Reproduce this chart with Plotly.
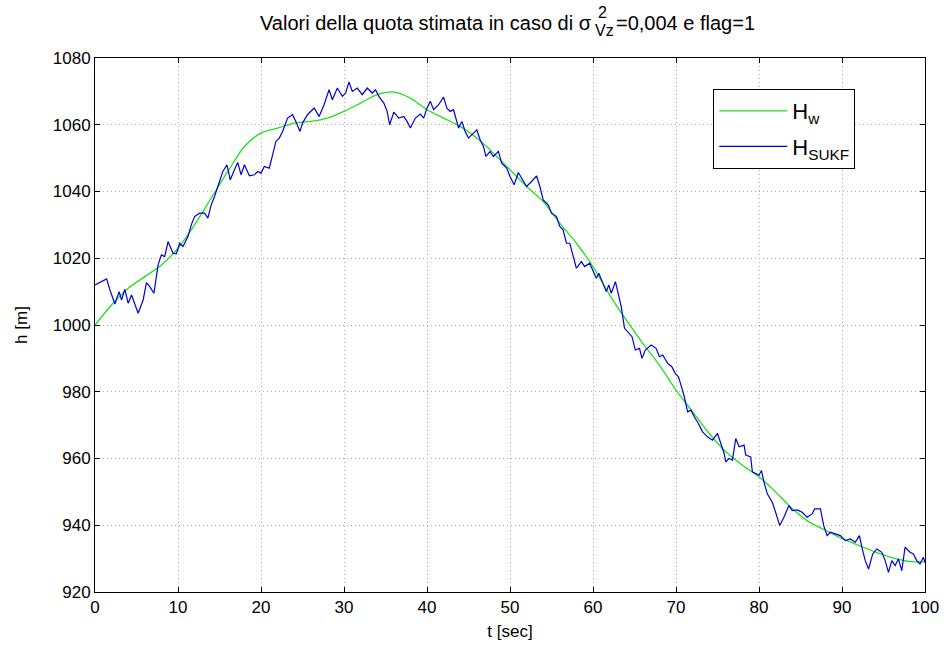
import plotly.graph_objects as go

# Reference altitude H_w (smooth)
t_w = [0, 2, 4, 6, 8, 10, 12, 14, 16, 18, 20, 22, 24, 26, 28, 30, 32, 34, 36, 38,
       40, 42, 44, 46, 48, 50, 52, 54, 56, 58, 60, 62, 64, 66, 68, 70, 72, 74, 76, 78,
       80, 82, 84, 86, 88, 90, 92, 94, 96, 98, 100]
h_w = [1000, 1006, 1011, 1014.5, 1018, 1023, 1030, 1038, 1046, 1053.5, 1057.5, 1059, 1060.5,
       1061, 1062, 1064, 1066.5, 1069, 1069.8, 1068, 1064.5, 1062, 1059.5, 1056, 1051.5,
       1046.5, 1041.5, 1037, 1030.5, 1024.5, 1017.5, 1009, 1001.5, 994.5, 988, 980.5, 974,
       967.5, 962, 958, 954.5, 950, 945, 941, 938.5, 936, 934, 932, 930.3, 929.2, 929]

# Estimated altitude H_SUKF
t_sukf = [0, 0.8, 1.4, 1.8, 2.4, 2.9, 3.2, 3.6, 4.0, 4.4, 4.8, 5.2, 5.8, 6.2, 6.6, 7.1, 7.6,
          8.0, 8.4, 8.8, 9.4, 9.8, 10.2, 10.6, 11.2, 11.6, 12.0, 12.6, 13.2, 13.6, 14.0, 14.4,
          15.0, 15.4, 15.9, 16.3, 16.8, 17.2, 17.6, 18.0, 18.6, 19.2, 19.6, 20.0, 20.4, 21.0,
          21.4, 21.8, 22.2, 22.6, 23.2, 23.8, 24.2, 24.7, 25.0, 25.6, 26.4, 27.0, 27.6, 28.2,
          28.6, 29.2, 29.8, 30.2, 30.6, 31.0, 31.6, 32.2, 32.8, 33.4, 33.8, 34.2, 34.8, 35.2,
          35.5, 36.0, 36.6, 37.2, 37.6, 38.0, 38.6, 39.2, 39.6, 40.0, 40.4, 40.8, 41.4, 42.0,
          42.4, 42.8, 43.2, 43.8, 44.2, 44.6, 45.0, 45.4, 46.0, 46.4, 46.8, 47.1, 47.6, 48.0,
          48.6, 49.0, 49.6, 50.0, 50.5, 51.0, 51.4, 52.0, 52.6, 53.2, 53.6, 54.0, 54.6, 55.0,
          55.6, 56.0, 56.4, 56.8, 57.2, 57.6, 58.0, 58.6, 59.0, 59.6, 60.0, 60.4, 60.7, 61.2,
          61.6, 61.9, 62.2, 62.7, 63.0, 63.4, 63.8, 64.2, 64.7, 65.1, 65.6, 65.9, 66.3, 67.0,
          67.6, 68.0, 68.4, 69.0, 69.5, 69.9, 70.3, 70.6, 71.0, 71.4, 71.8, 72.2, 72.7, 73.2,
          73.8, 74.4, 75.0, 75.4, 75.8, 76.0, 76.4, 76.8, 77.2, 77.6, 78.2, 78.4, 79.0, 79.2,
          79.6, 80.0, 80.3, 80.6, 81.0, 81.6, 82.0, 82.5, 83.0, 83.6, 84.0, 84.6, 85.2, 85.8,
          86.4, 86.7, 87.4, 87.8, 88.2, 88.6, 89.2, 89.8, 90.4, 91.0, 91.6, 92.1, 92.4, 92.8,
          93.2, 93.7, 94.2, 94.8, 95.2, 95.6, 96.0, 96.4, 96.8, 97.2, 97.6, 98.2, 98.6, 99.0,
          99.4, 99.8, 100]
h_sukf = [1012, 1013, 1013.8, 1010.5, 1006.3, 1010, 1007.5, 1010.7, 1006.5, 1009, 1006,
          1003.5, 1007.5, 1012.7, 1011.5, 1009.5, 1018, 1021, 1020.5, 1025, 1021.5, 1021.3,
          1024.5, 1023.5, 1026.5, 1030, 1032.5, 1033.5, 1033.5, 1032, 1036, 1038.5, 1043,
          1046, 1048, 1043.5, 1046.5, 1048.7, 1045, 1048, 1044.7, 1045, 1046, 1045.5, 1047.5,
          1047, 1051, 1055, 1056, 1058, 1062, 1063, 1061, 1058, 1060.5, 1063, 1065, 1062.5,
          1066, 1070.5, 1067.5, 1071, 1068.5, 1069.5, 1072.8, 1070, 1071, 1069, 1071, 1069.5,
          1070.5, 1068.5, 1066.5, 1064, 1060, 1063.8, 1062, 1062.5, 1061, 1059, 1062, 1063.2,
          1062, 1065, 1067, 1064.5, 1066, 1068.3, 1065, 1064, 1064.5, 1059, 1061, 1058, 1056,
          1057, 1058.5, 1055.5, 1053.5, 1050.5, 1052, 1050.5, 1052, 1048.5, 1047, 1044.5, 1042,
          1045.7, 1044, 1041.5, 1043, 1044.7, 1041.5, 1037.5, 1036, 1033.5, 1032.5, 1029.5,
          1028.5, 1024.5, 1024.5, 1020.5, 1017, 1019, 1017.5, 1018.5, 1016, 1014, 1015.5,
          1012.5, 1010, 1012, 1009.5, 1013, 1009.5, 1005.5, 999, 998, 996.5, 992.5, 993, 990,
          992.5, 994, 993, 990.5, 991, 988.5, 987.5, 985.5, 984.5, 982, 978.5, 974, 974.5,
          972.5, 970.5, 968, 966.5, 965.5, 967.5, 964.5, 961.5, 959, 960, 959.5, 966, 963.5,
          964, 961, 960.5, 956, 955.5, 955, 956.4, 952.9, 949.4, 946.9, 943.9, 939.9, 942.4,
          945.9, 944.4, 944.6, 943.9, 942.4, 943.4, 944.9, 944.9, 939.9, 936.9, 937.9, 937.4,
          936.9, 935.4, 935.9, 934.9, 936.9, 933.4, 929.4, 926.9, 931.4, 932.9, 931.9, 929.4,
          925.9, 929.4, 927.9, 929.9, 926.4, 933.4, 931.9, 931.4, 929.4, 928.4, 930.4, 928.9]

x_ticks = [0, 10, 20, 30, 40, 50, 60, 70, 80, 90, 100]
y_ticks = [920, 940, 960, 980, 1000, 1020, 1040, 1060, 1080]

FONT = "Liberation Sans, Arial, sans-serif"
W, H = 951, 650
ML, MR, MT, MB = 95, 21, 58, 58
PW, PH = W - ML - MR, H - MT - MB


def px_x(px):
    return (px - ML) / PW


def px_y(py):
    return (H - MB - py) / PH


fig = go.Figure()
fig.add_trace(go.Scatter(
    x=t_w, y=h_w, mode="lines", name="H<sub>w</sub>", legendgroup="w",
    line=dict(color="rgb(30,225,30)", width=1.3, shape="spline", smoothing=0.8),
))
fig.add_trace(go.Scatter(
    x=t_sukf, y=h_sukf, mode="lines", name="H<sub>SUKF</sub>", legendgroup="sukf",
    line=dict(color="rgb(0,0,215)", width=1.2),
))

axis_common = dict(
    showline=True, linecolor="black", linewidth=1, mirror="ticks",
    ticks="inside", ticklen=5, tickcolor="black",
    showgrid=True, gridcolor="rgb(175,175,175)", griddash="1px,3px", gridwidth=1,
    zeroline=False, tickfont=dict(family=FONT, size=17, color="black"),
)

fig.update_xaxes(range=[0, 100], tickvals=x_ticks,
                 title=dict(text="t [sec]", font=dict(family=FONT, size=17, color="black"), standoff=8),
                 **axis_common)
fig.update_yaxes(range=[920, 1080], tickvals=y_ticks,
                 title=dict(text="h [m]", font=dict(family=FONT, size=17, color="black"), standoff=20),
                 **axis_common)

# Title built from pieces so the exponent and subscript of sigma stack
title_y = px_y(23)
annotations = [
    dict(text="Valori della quota stimata in caso di σ", x=px_x(597), y=title_y,
         xanchor="right", yanchor="middle", font=dict(size=20)),
    dict(text="2", x=px_x(599), y=px_y(13), xanchor="left", yanchor="middle", font=dict(size=16)),
    dict(text="Vz", x=px_x(596), y=px_y(31), xanchor="left", yanchor="middle", font=dict(size=16)),
    dict(text="=0,004 e flag=1", x=px_x(617), y=title_y,
         xanchor="left", yanchor="middle", font=dict(size=20)),
]
for a in annotations:
    a.update(xref="paper", yref="paper", showarrow=False)
    a["font"].update(family=FONT, color="black")

fig.update_layout(
    width=W, height=H, autosize=False,
    margin=dict(l=ML, r=MR, t=MT, b=MB),
    paper_bgcolor="white", plot_bgcolor="white",
    font=dict(family=FONT, size=17, color="black"),
    annotations=annotations,
    showlegend=True,
    legend=dict(
        x=px_x(717), y=px_y(89), xanchor="left", yanchor="top",
        bordercolor="black", borderwidth=1, bgcolor="white",
        font=dict(family=FONT, size=22, color="black"),
        itemwidth=68, tracegroupgap=4, entrywidth=125,
    ),
)

fig.write_html("out.html")
